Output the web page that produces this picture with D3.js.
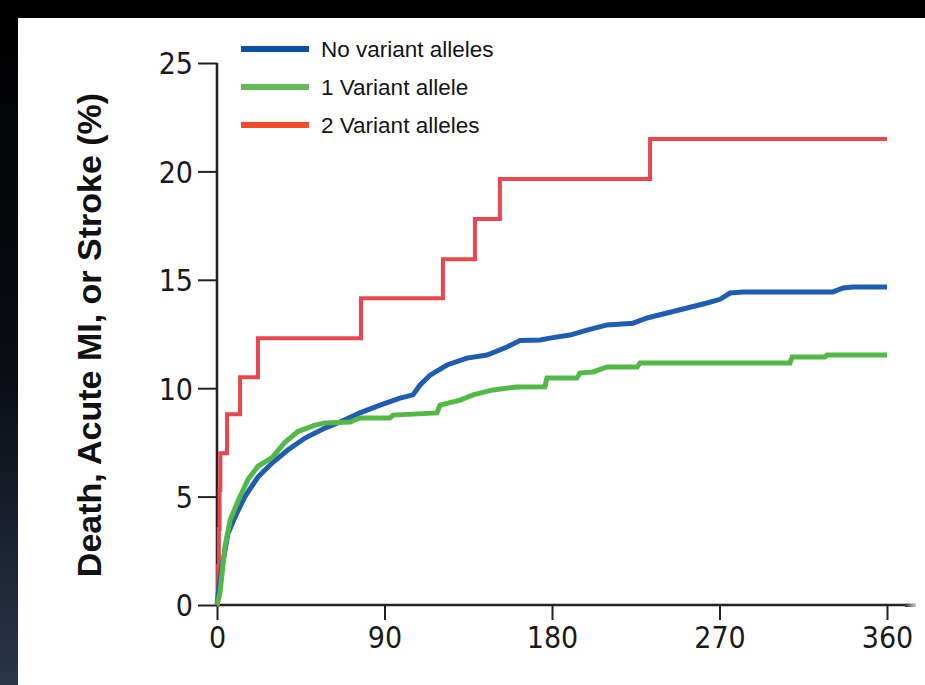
<!DOCTYPE html>
<html>
<head>
<meta charset="utf-8">
<script src="https://cdn.jsdelivr.net/npm/d3@7"></script>
<style>
  html, body { margin: 0; padding: 0; background: #fff; overflow: hidden; }
  svg { display: block; }
</style>
</head>
<body>
<script>
// Cumulative event rates (%) by day after randomization, per genotype group
const redDays   = [0, 0.6, 1.0, 1.4, 1.8, 5.4, 12.4, 22, 77.4, 121.4, 138.6, 152, 232.7, 360];
const redPct    = [0, 1.8, 3.5, 5.3, 7.0, 8.8, 10.5, 12.3, 14.15, 15.95, 17.8, 19.65, 21.5, 21.5];

const blueDays  = [0, 1, 2.7, 5.9, 9.7, 15, 22, 29.6, 38, 47.3, 58, 66.1, 76.8, 87.6, 98.3, 105.3, 109.1,
                   114.5, 123.6, 134.3, 145.1, 155.8, 162.8, 173.6, 178.9, 189.7, 198.8, 209.6, 223.5,
                   231.1, 241.8, 252.6, 263.3, 270.3, 275.7, 282.6, 331, 336.4, 341.8, 360];
const bluePct   = [0, 0.8, 1.75, 3.3, 4.06, 5.0, 5.9, 6.55, 7.15, 7.7, 8.16, 8.44, 8.86, 9.22, 9.54, 9.69, 10.15,
                   10.6, 11.07, 11.39, 11.53, 11.9, 12.2, 12.22, 12.31, 12.45, 12.68, 12.92, 13.0,
                   13.24, 13.47, 13.7, 13.93, 14.1, 14.39, 14.44, 14.44, 14.62, 14.67, 14.67];

const greenDays = [0, 1.6, 4.3, 7.0, 11.3, 16.7, 22, 29.6, 36.5, 43.5, 52.7, 58, 71.5, 76.8, 92.9, 94.6,
                   118.2, 119.8, 130.6, 137.6, 148.3, 161.2, 176.2, 177.3, 193.4, 195, 202, 209.6, 225.7,
                   227.3, 307.9, 309, 326.7, 327.8, 360];
const greenPct  = [0, 0.55, 2.7, 3.9, 4.8, 5.8, 6.4, 6.8, 7.5, 8.0, 8.3, 8.4, 8.44, 8.63, 8.63, 8.76,
                   8.86, 9.22, 9.45, 9.69, 9.92, 10.06, 10.07, 10.47, 10.47, 10.7, 10.75, 10.98, 10.98,
                   11.16, 11.16, 11.44, 11.44, 11.53, 11.53];

const legendLabels = ["No variant alleles", "1 Variant allele", "2 Variant alleles"];
const xTicks = [0, 90, 180, 270, 360];
const yTicks = [0, 5, 10, 15, 20, 25];
const yTitle = "Death, Acute MI, or Stroke (%)";

const W = 925, H = 685;
const svg = d3.select("body").append("svg").attr("width", W).attr("height", H);

// Frame: dark strip along the top and the left edge, white card elsewhere
const defs = svg.append("defs");
const grad = defs.append("linearGradient").attr("id", "edge").attr("x1", 0).attr("y1", 0).attr("x2", 0).attr("y2", 1);
grad.append("stop").attr("offset", "0%").attr("stop-color", "#000");
grad.append("stop").attr("offset", "55%").attr("stop-color", "#0a0d14");
grad.append("stop").attr("offset", "100%").attr("stop-color", "#2b3549");
const fade = defs.append("linearGradient").attr("id", "fade").attr("x1", 0).attr("y1", 0).attr("x2", 1).attr("y2", 0);
fade.append("stop").attr("offset", "0%").attr("stop-color", "#333");
fade.append("stop").attr("offset", "100%").attr("stop-color", "#ccc");

svg.append("rect").attr("x", 0).attr("y", 0).attr("width", W).attr("height", H).attr("fill", "#fff");
svg.append("rect").attr("x", 0).attr("y", 0).attr("width", 18).attr("height", H).attr("fill", "url(#edge)");
svg.append("rect").attr("x", 0).attr("y", 0).attr("width", W).attr("height", 18).attr("fill", "#000");

const x = d3.scaleLinear().domain([0, 360]).range([217, 887]);
const y = d3.scaleLinear().domain([0, 25]).range([605, 63]);

const tickFont = "'DejaVu Sans', sans-serif";

// Y axis
const yAxis = svg.append("g").attr("transform", `translate(${x(0)},0)`)
  .call(d3.axisLeft(y).tickValues(yTicks).tickSize(19).tickPadding(5).tickFormat(d3.format("d")));
yAxis.select(".domain").attr("stroke", "#222").attr("stroke-width", 2.6).attr("d", `M0,${y(25)}H0V${y(0)}`);
yAxis.selectAll(".tick line").attr("stroke", "#222").attr("stroke-width", 2);
yAxis.selectAll(".tick text").attr("font-family", tickFont).attr("font-stretch", "condensed")
  .attr("font-size", 30).attr("fill", "#1a1a1a").attr("dy", "0.36em");

// X axis
const xAxis = svg.append("g").attr("transform", `translate(0,${y(0)})`)
  .call(d3.axisBottom(x).tickValues(xTicks).tickSize(15).tickPadding(7).tickFormat(d3.format("d")));
xAxis.select(".domain").attr("stroke", "#222").attr("stroke-width", 2.6).attr("d", `M${x(0)},0H905`);
xAxis.selectAll(".tick line").attr("stroke", "#222").attr("stroke-width", 2);
xAxis.selectAll(".tick text").attr("font-family", tickFont).attr("font-stretch", "condensed")
  .attr("font-size", 30).attr("fill", "#1a1a1a");
svg.append("rect").attr("x", 905).attr("y", y(0) - 1.5).attr("width", 11).attr("height", 3.5).attr("fill", "url(#fade)");

// Y axis title
svg.append("text")
  .attr("transform", `translate(101,335) rotate(-90)`)
  .attr("text-anchor", "middle")
  .attr("font-family", "'Liberation Sans', Arial, sans-serif")
  .attr("font-weight", "bold").attr("font-size", 34).attr("fill", "#111")
  .text(yTitle);

// Curves
const series = [
  { days: redDays, pct: redPct, color: "#e8474d", width: 4, curve: d3.curveStepAfter },
  { days: blueDays, pct: bluePct, color: "#1f5db3", width: 5, curve: d3.curveLinear },
  { days: greenDays, pct: greenPct, color: "#52b947", width: 5, curve: d3.curveLinear }
];
series.forEach(s => {
  const pts = s.days.map((d, i) => [d, s.pct[i]]);
  const line = d3.line().x(d => x(d[0])).y(d => y(d[1])).curve(s.curve);
  svg.append("path").datum(pts).attr("d", line)
    .attr("fill", "none").attr("stroke", s.color).attr("stroke-width", s.width)
    .attr("stroke-linejoin", "miter").attr("stroke-linecap", "butt");
});

// Legend
const legendColors = ["#0a50a4", "#62bb58", "#f04c27"];
const legendY = [49, 87, 125];
const lg = svg.append("g");
legendLabels.forEach((lab, i) => {
  lg.append("line").attr("x1", 241).attr("x2", 309).attr("y1", legendY[i]).attr("y2", legendY[i])
    .attr("stroke", legendColors[i]).attr("stroke-width", 6);
  lg.append("text").attr("x", 321).attr("y", legendY[i] + 8)
    .attr("font-family", "'Liberation Sans', Arial, sans-serif").attr("font-size", 22.5).attr("fill", "#141414")
    .text(lab);
});
</script>
</body>
</html>
